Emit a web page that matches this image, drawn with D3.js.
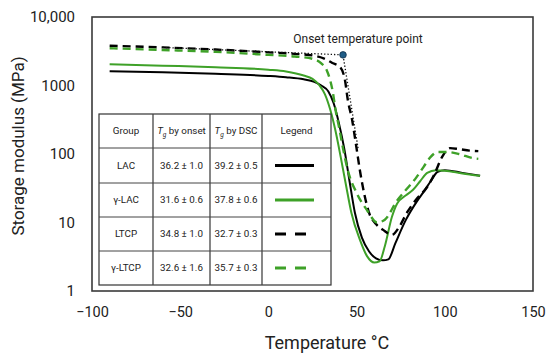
<!DOCTYPE html>
<html>
<head>
<meta charset="utf-8">
<script src="https://cdn.jsdelivr.net/npm/d3@7"></script>
<style>
  body { margin: 0; background: #fff; }
  svg text { font-family: Roboto, "Noto Sans", sans-serif; fill: #222; }
</style>
</head>
<body>
<svg id="chart" width="550" height="356"></svg>
<script>
// Storage modulus (MPa) vs temperature (°C)
var lacT = [-90, -60, -30, 0, 10, 20, 26, 30, 34, 37, 40, 43, 46, 49, 53, 57, 61, 65, 68, 72, 78, 84, 88, 92, 96, 100, 110, 120];
var lacE = [1620, 1560, 1480, 1380, 1320, 1230, 1130, 1000, 820, 550, 280, 120, 40, 14, 6, 3.8, 3.0, 2.8, 2.9, 5, 11, 20, 28, 40, 55, 58, 53, 48];

var gLacT = [-90, -60, -30, 0, 10, 20, 25, 29, 32, 35, 38, 41, 44, 47, 52, 56, 60, 63, 66, 70, 73, 78, 82, 86, 90, 95, 100, 110, 120];
var gLacE = [2050, 1950, 1850, 1700, 1600, 1400, 1250, 1000, 750, 450, 220, 90, 35, 14, 5.5, 3.2, 2.6, 2.7, 4.5, 12, 19, 25, 30, 40, 53, 58, 57, 52, 48];

var ltcpT = [-90, -60, -30, 0, 15, 25, 32, 36, 40.6, 43.4, 45, 47.4, 50, 52, 54.5, 57, 61, 65, 70, 74, 78.6, 84, 90, 94, 98.4, 103, 108, 114, 119];
var ltcpE = [3800, 3600, 3350, 3050, 2900, 2750, 2450, 2150, 1860, 1200, 620, 320, 120, 55, 25, 14, 9.5, 7.8, 6.6, 8.5, 14, 22, 33, 50, 90, 122, 118, 112, 110];

var gLtcpT = [-90, -60, -30, 0, 15, 25, 30, 33, 35, 36.6, 38, 40, 41.7, 45, 50, 56, 61.6, 66, 73, 78, 84, 88, 92, 96, 101, 108, 116, 119];
var gLtcpE = [3500, 3300, 3100, 2800, 2650, 2450, 2100, 1690, 1200, 780, 450, 250, 145, 58, 27, 15, 10, 11, 21, 30, 46, 65, 91, 107, 107, 100, 87, 85];

// onset construction: tangent line, onset point, steep tangent
var onsetT = [-60, 42.3, 50.8];
var onsetE = [3600, 2800, 122];

var xTicks = [-100, -50, 0, 50, 100, 150];
var yTicks = [1, 10, 100, 1000, 10000];

// table contents
var groups = ['LAC', 'γ-LAC', 'LTCP', 'γ-LTCP'];
var tgOnset = ['36.2 ± 1.0', '31.6 ± 0.6', '34.8 ± 1.0', '32.6 ± 1.6'];
var tgDsc = ['39.2 ± 0.5', '37.8 ± 0.6', '32.7 ± 0.3', '35.7 ± 0.3'];

var black = '#000000', green = '#3ea128';
var series = [
  { t: lacT, e: lacE, color: black, dash: null },
  { t: gLacT, e: gLacE, color: green, dash: null },
  { t: ltcpT, e: ltcpE, color: black, dash: '8,5' },
  { t: gLtcpT, e: gLtcpE, color: green, dash: '8,5' }
];

var margin = { top: 17, right: 17, bottom: 65, left: 92 },
    width = 550 - margin.left - margin.right,
    height = 356 - margin.top - margin.bottom;

var svg = d3.select('#chart');
var g = svg.append('g').attr('transform', 'translate(' + margin.left + ',' + margin.top + ')');

var x = d3.scaleLinear().domain([-100, 150]).range([0, width]);
var y = d3.scaleLog().domain([1, 10000]).range([height, 0]);

var fmtY = function (d) { return d >= 10000 ? d3.format(',')(d) : String(d); };

var xAxis = g.append('g')
    .attr('transform', 'translate(0,' + height + ')')
    .call(d3.axisBottom(x).tickValues(xTicks).tickSize(0).tickPadding(16));
xAxis.select('.domain').remove();
xAxis.selectAll('text').style('font-size', '14.5px').attr('fill', '#222');

var yAxis = g.append('g')
    .call(d3.axisLeft(y).tickValues(yTicks).tickFormat(fmtY).tickSize(0).tickPadding(17));
yAxis.select('.domain').remove();
yAxis.selectAll('text').style('font-size', '15px').attr('fill', '#222');

// axis titles
svg.append('text')
    .attr('x', 327).attr('y', 349)
    .attr('text-anchor', 'middle')
    .style('font-size', '18px')
    .text('Temperature °C');

svg.append('text')
    .attr('transform', 'translate(24,146) rotate(-90)')
    .attr('text-anchor', 'middle')
    .style('font-size', '17px')
    .text('Storage modulus (MPa)');

var line = d3.line()
    .x(function (d) { return x(d[0]); })
    .y(function (d) { return y(d[1]); })
    .curve(d3.curveMonotoneX);

series.forEach(function (s) {
    g.append('path')
        .attr('d', line(d3.zip(s.t, s.e)))
        .attr('fill', 'none')
        .attr('stroke', s.color)
        .attr('stroke-width', s.dash ? 2.4 : 2)
        .attr('stroke-dasharray', s.dash);
});

// onset construction
g.append('path')
    .attr('d', d3.line().x(function (d) { return x(d[0]); }).y(function (d) { return y(d[1]); })(d3.zip(onsetT, onsetE)))
    .attr('fill', 'none')
    .attr('stroke', '#111')
    .attr('stroke-width', 1.3)
    .attr('stroke-dasharray', '1.3,2');

g.append('circle')
    .attr('cx', x(onsetT[1]))
    .attr('cy', y(onsetE[1]))
    .attr('r', 3.3)
    .attr('fill', '#1f5c86')
    .attr('stroke', '#10304a')
    .attr('stroke-width', 0.8);

g.append('text')
    .attr('x', x(onsetT[1]) + 15)
    .attr('y', 26)
    .attr('text-anchor', 'middle')
    .style('font-size', '12px')
    .text('Onset temperature point');

// plot frame
g.append('rect')
    .attr('width', width).attr('height', height)
    .attr('fill', 'none')
    .attr('stroke', '#3a3a3a')
    .attr('stroke-width', 1.6);

// table
var colX = [99, 153, 210, 262, 331];
var rowY = [114, 148, 183, 217, 251, 285];
var tbl = svg.append('g');

tbl.append('rect')
    .attr('x', colX[0]).attr('y', rowY[0])
    .attr('width', colX[4] - colX[0]).attr('height', rowY[5] - rowY[0])
    .attr('fill', '#fff')
    .attr('stroke', '#333').attr('stroke-width', 1.2);

rowY.slice(1, 5).forEach(function (yy) {
    tbl.append('line').attr('x1', colX[0]).attr('x2', colX[4]).attr('y1', yy).attr('y2', yy)
        .attr('stroke', '#444').attr('stroke-width', 1);
});
colX.slice(1, 4).forEach(function (xx) {
    tbl.append('line').attr('x1', xx).attr('x2', xx).attr('y1', rowY[0]).attr('y2', rowY[5])
        .attr('stroke', '#444').attr('stroke-width', 1.3);
});

var cx = function (i) { return (colX[i] + colX[i + 1]) / 2; };
var cy = function (j) { return (rowY[j] + rowY[j + 1]) / 2; };
var fs = '9.8px';

tbl.append('text').attr('x', cx(0)).attr('y', cy(0)).attr('dy', '0.35em')
    .attr('text-anchor', 'middle').style('font-size', fs).text('Group');

[1, 2].forEach(function (c) {
    var t = tbl.append('text').attr('x', cx(c)).attr('y', cy(0)).attr('dy', '0.35em')
        .attr('text-anchor', 'middle').style('font-size', fs);
    t.append('tspan').style('font-style', 'italic').text('T');
    t.append('tspan').style('font-style', 'italic').style('font-size', '6.5px').attr('dy', '2.5').text('g');
    t.append('tspan').attr('dy', '-2.5').text(c === 1 ? ' by onset' : ' by DSC');
});

tbl.append('text').attr('x', cx(3)).attr('y', cy(0)).attr('dy', '0.35em')
    .attr('text-anchor', 'middle').style('font-size', fs).text('Legend');

groups.forEach(function (name, j) {
    tbl.append('text').attr('x', cx(0)).attr('y', cy(j + 1)).attr('dy', '0.35em')
        .attr('text-anchor', 'middle').style('font-size', fs).text(name);
    tbl.append('text').attr('x', cx(1)).attr('y', cy(j + 1)).attr('dy', '0.35em')
        .attr('text-anchor', 'middle').style('font-size', fs).text(tgOnset[j]);
    tbl.append('text').attr('x', cx(2)).attr('y', cy(j + 1)).attr('dy', '0.35em')
        .attr('text-anchor', 'middle').style('font-size', fs).text(tgDsc[j]);
    var s = series[j];
    tbl.append('line')
        .attr('x1', 275).attr('x2', s.dash ? 306 : 314)
        .attr('y1', cy(j + 1)).attr('y2', cy(j + 1))
        .attr('stroke', s.color)
        .attr('stroke-width', 3)
        .attr('stroke-dasharray', s.dash ? '11,9' : null);
});
</script>
</body>
</html>
